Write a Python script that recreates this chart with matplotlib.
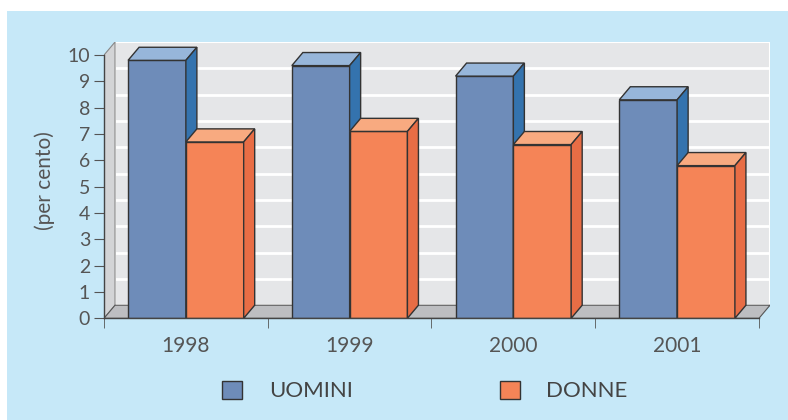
import matplotlib.pyplot as plt
from matplotlib.patches import Polygon, Rectangle, Patch

plt.rcParams["font.family"] = "Lato"

# Data
years = ["1998", "1999", "2000", "2001"]
uomini = [9.8, 9.6, 9.2, 8.3]
donne = [6.7, 7.1, 6.6, 5.8]
yticks = list(range(0, 11))

# Style
BG = "#c6e8f8"
WALL = "#e5e6e8"
SIDE_WALL = "#d3d4d6"
FLOOR = "#bdbec1"
EDGE = "#333333"
TEXT = "#555555"
U_FRONT, U_TOP, U_SIDE = "#6e8cb9", "#97b6da", "#3473ae"
D_FRONT, D_TOP, D_SIDE = "#f58457", "#f8aa80", "#e86d45"

W, H = 788, 420
fig = plt.figure(figsize=(W / 100, H / 100), dpi=100, facecolor="white")
fig.patches.append(Rectangle((7 / W, 0), 1, (H - 11) / H, transform=fig.transFigure,
                             facecolor=BG, edgecolor="none", zorder=-10))

# axes: front frame 104..758 px, depth included up to 770 px / 42 px
left, right, bottom, top = 104, 770, 318.3, 42
ax = fig.add_axes([left / W, (H - bottom) / H, (right - left) / W, (bottom - top) / H])
ax.patch.set_visible(False)

dx = 11 / 163.5     # depth offset in group units
dy = 13 / 26.16     # depth offset in value units
n = len(years)
ax.set_xlim(0, n + dx)
ax.set_ylim(0, 10 + dy)

# back wall, side wall, floor
ax.add_patch(Rectangle((dx, dy), n, 10, facecolor=WALL, edgecolor="white", lw=1.5, zorder=0))
for v in yticks[1:-1]:
    ax.plot([dx, n + dx], [v + dy, v + dy], color="white", lw=2, zorder=0.5)
ax.add_patch(Polygon([(0, 0), (dx, dy), (dx, 10 + dy), (0, 10)], closed=True,
                     facecolor=SIDE_WALL, edgecolor="#888888", lw=0.8, zorder=1))
ax.add_patch(Polygon([(0, 0), (n, 0), (n + dx, dy), (dx, dy)], closed=True,
                     facecolor=FLOOR, edgecolor="#555555", lw=0.8, zorder=1))


def bar3d(x0, w, v, front, topc, side):
    kw = dict(closed=True, edgecolor=EDGE, lw=1.0, zorder=2)
    ax.add_patch(Polygon([(x0, 0), (x0 + w, 0), (x0 + w, v), (x0, v)], facecolor=front, **kw))
    ax.add_patch(Polygon([(x0, v), (x0 + w, v), (x0 + w + dx, v + dy), (x0 + dx, v + dy)],
                         facecolor=topc, **kw))
    ax.add_patch(Polygon([(x0 + w, 0), (x0 + w + dx, dy), (x0 + w + dx, v + dy), (x0 + w, v)],
                         facecolor=side, **kw))


bw = 0.353
for i in range(n):
    bar3d(i + 0.5 - bw, bw, uomini[i], U_FRONT, U_TOP, U_SIDE)
    bar3d(i + 0.5, bw, donne[i], D_FRONT, D_TOP, D_SIDE)

# axes lines and ticks
for s in ["top", "right"]:
    ax.spines[s].set_visible(False)
ax.spines["left"].set_bounds(0, 10)
ax.spines["bottom"].set_bounds(0, n)
for s in ["left", "bottom"]:
    ax.spines[s].set_color("#444444")
    ax.spines[s].set_linewidth(1.0)
    ax.spines[s].set_zorder(3)

ax.set_yticks(yticks)
ax.set_yticklabels([str(t) for t in yticks])
ax.tick_params(axis="y", length=7, color="#555555", labelsize=14, labelcolor=TEXT, pad=3)

ax.set_xticks([i + 0.5 for i in range(n)])
ax.set_xticklabels(years)
ax.set_xticks(list(range(n + 1)), minor=True)
ax.tick_params(axis="x", which="major", length=0, labelsize=15, labelcolor=TEXT, pad=13)
ax.tick_params(axis="x", which="minor", length=7, color="#555555")

ax.set_ylabel("(per cento)", fontsize=15, color=TEXT, labelpad=9)

handles = [Patch(facecolor=U_FRONT, edgecolor=EDGE, label="UOMINI"),
           Patch(facecolor=D_FRONT, edgecolor=EDGE, label="DONNE")]
fig.legend(handles=handles, loc="center", bbox_to_anchor=(425 / W, 1 - 391 / H), ncol=2,
           frameon=False, fontsize=16, labelcolor="#444444", handlelength=0.9,
           handleheight=0.9, handletextpad=1.2, columnspacing=6.6)

fig.savefig("out.png", dpi=100, facecolor="white")
